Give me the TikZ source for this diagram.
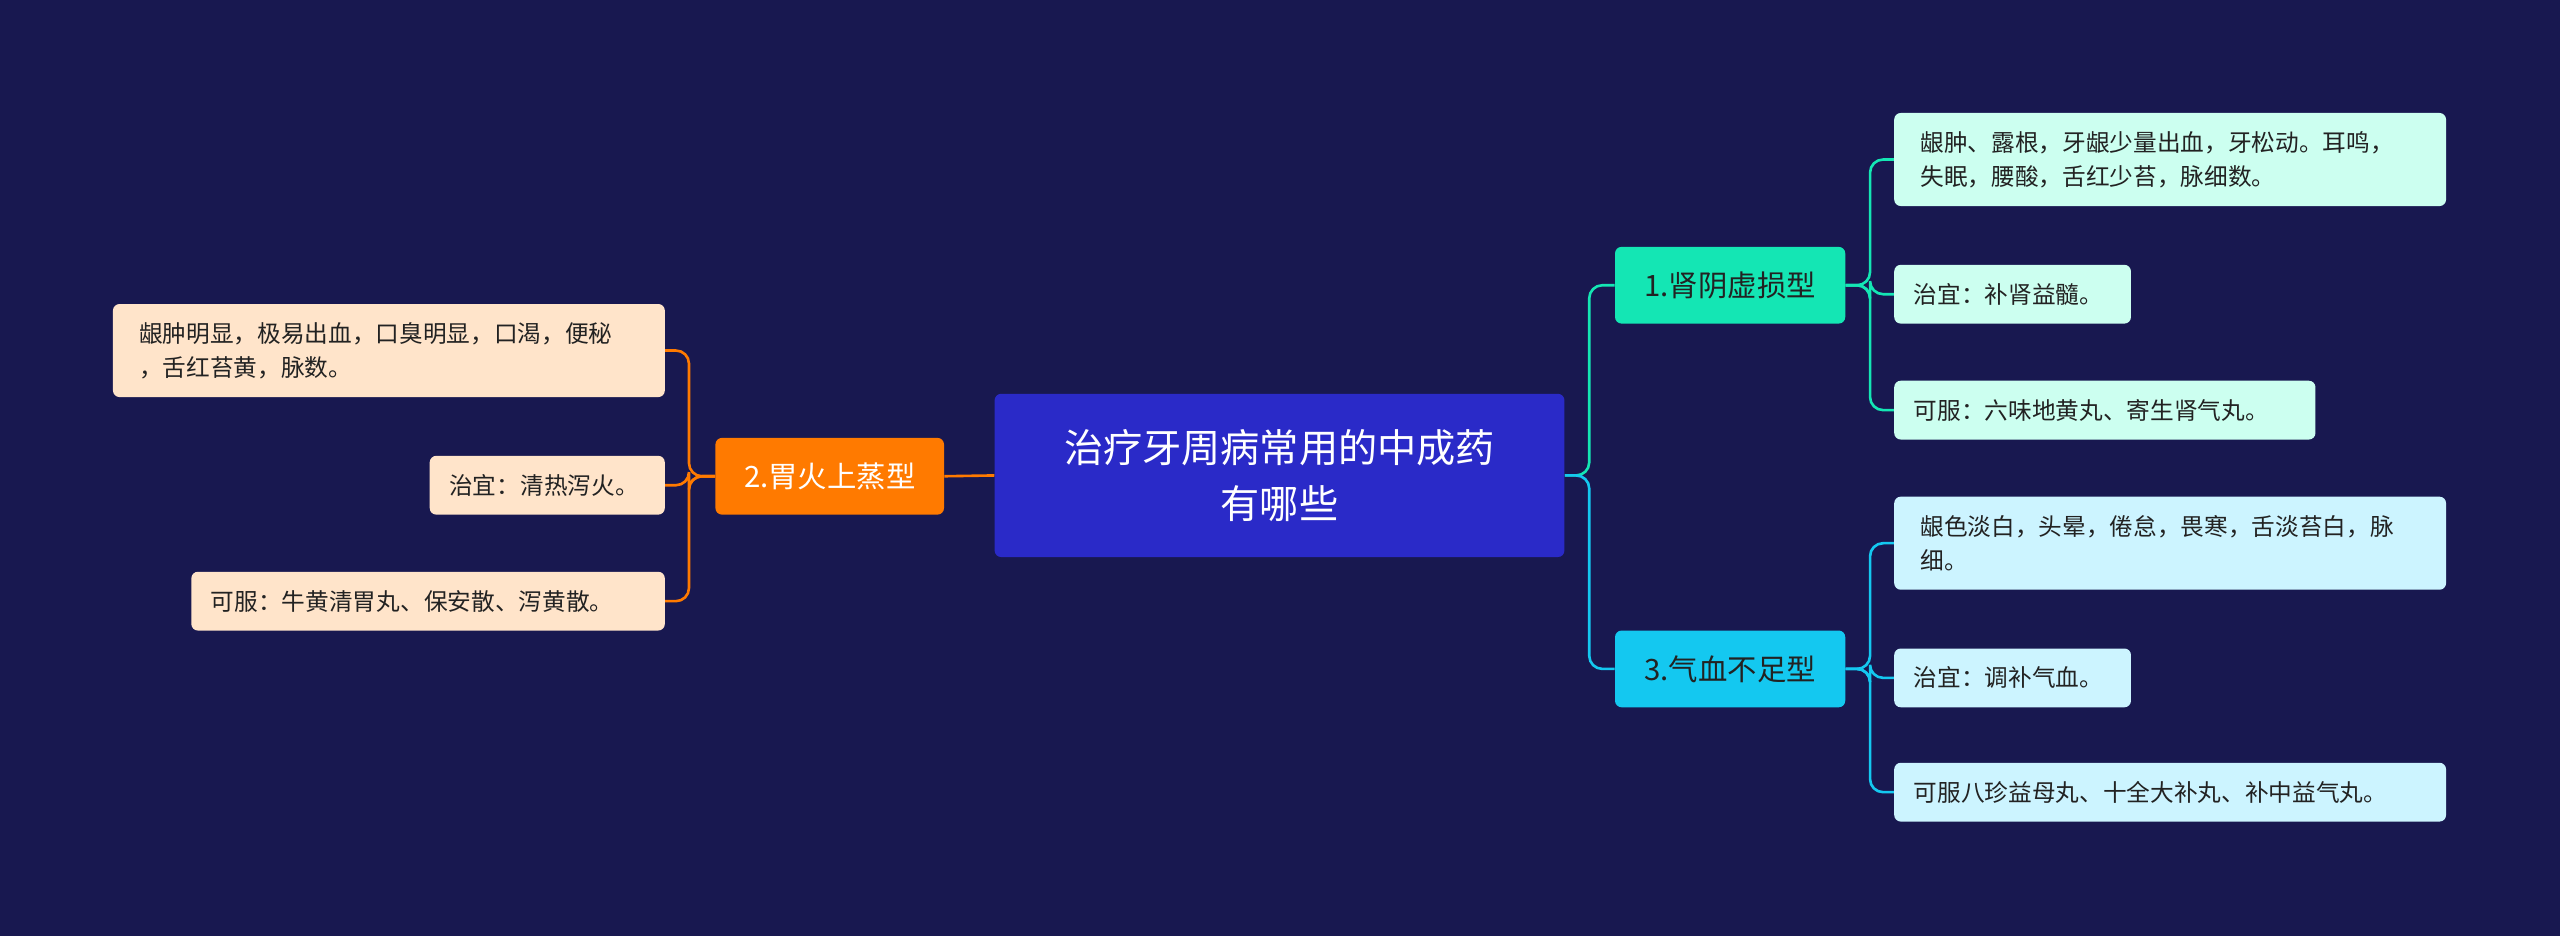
\documentclass[tikz,border=0pt]{standalone}
\usepackage{fontspec}
\setmainfont{Noto Sans CJK SC}
\begin{document}
\begin{tikzpicture}[x=1pt,y=-1pt,
  box/.style={rounded corners=4pt,anchor=north west,inner sep=0pt,align=left},
  leafL/.style={box,fill=leafo,text=textd,font=\fontsize{14.5}{21}\selectfont},
  leafT/.style={box,fill=leaft,text=textd,font=\fontsize{14.5}{21}\selectfont},
  leafC/.style={box,fill=leafc,text=textd,font=\fontsize{14.5}{21}\selectfont},
  br/.style={box,align=center,font=\fontsize{18}{22}\selectfont},
  ln/.style={line width=1.6pt,rounded corners=8pt}]
\definecolor{bg}{HTML}{181850}
\definecolor{cen}{HTML}{2A2AC8}
\definecolor{oran}{HTML}{FF7A00}
\definecolor{teal}{HTML}{14E6B4}
\definecolor{cyan}{HTML}{14C8F0}
\definecolor{leafo}{HTML}{FFE4CA}
\definecolor{leaft}{HTML}{CCFFF0}
\definecolor{leafc}{HTML}{CCF4FF}
\definecolor{textd}{HTML}{222222}
\fill[bg] (0,0) rectangle (1568,573);
\useasboundingbox (0,0) rectangle (1568,573);
\node[box,fill=cen,text=white,align=center,minimum width=349pt,minimum height=100pt,font=\fontsize{24}{34}\selectfont] (c) at (609,241) {治疗牙周病常用的中成药\\有哪些};
\node[br,fill=oran,text=white,minimum width=140pt,minimum height=47pt] (b2) at (438,268) {2.胃火上蒸型};
\node[br,fill=teal,text=textd,minimum width=141pt,minimum height=47pt] (b1) at (989,151) {1.肾阴虚损型};
\node[br,fill=cyan,text=textd,minimum width=141pt,minimum height=47pt] (b3) at (989,386) {3.气血不足型};
\node[leafL,minimum width=338pt,minimum height=57pt,text width=322pt] (l1) at (69,186) {\hspace*{8pt}龈肿明显，极易出血，口臭明显，口渴，便秘\\\hspace*{8pt}，舌红苔黄，脉数。};
\node[leafL,minimum width=144pt,minimum height=36pt,text width=136pt] (l2) at (263,279) {\hspace*{8pt}治宜：清热泻火。};
\node[leafL,minimum width=290pt,minimum height=36pt,text width=282pt] (l3) at (117,350) {\hspace*{8pt}可服：牛黄清胃丸、保安散、泻黄散。};
\node[leafT,minimum width=338pt,minimum height=57pt,text width=322pt] (r1) at (1160,69) {\hspace*{8pt}龈肿、露根，牙龈少量出血，牙松动。耳鸣，\\\hspace*{8pt}失眠，腰酸，舌红少苔，脉细数。};
\node[leafT,minimum width=145pt,minimum height=36pt,text width=137pt] (r2) at (1160,162) {\hspace*{8pt}治宜：补肾益髓。};
\node[leafT,minimum width=258pt,minimum height=36pt,text width=250pt] (r3) at (1160,233) {\hspace*{8pt}可服：六味地黄丸、寄生肾气丸。};
\node[leafC,minimum width=338pt,minimum height=57pt,text width=322pt] (r4) at (1160,304) {\hspace*{8pt}龈色淡白，头晕，倦怠，畏寒，舌淡苔白，脉\\\hspace*{8pt}细。};
\node[leafC,minimum width=145pt,minimum height=36pt,text width=137pt] (r5) at (1160,397) {\hspace*{8pt}治宜：调补气血。};
\node[leafC,minimum width=338pt,minimum height=36pt,text width=330pt] (r6) at (1160,467) {\hspace*{8pt}可服八珍益母丸、十全大补丸、补中益气丸。};
\draw[ln,oran] (c.west) -- (b2.east);
\draw[ln,teal] (c.east) -- ([xshift=15pt]c.east) |- (b1.west);
\draw[ln,cyan] (c.east) -- ([xshift=15pt]c.east) |- (b3.west);
\foreach \l in {l1,l2,l3} \draw[ln,oran] (b2.west) -- ([xshift=-16pt]b2.west) |- (\l.east);
\foreach \r in {r1,r2,r3} \draw[ln,teal] (b1.east) -- ([xshift=15pt]b1.east) |- (\r.west);
\foreach \r in {r4,r5,r6} \draw[ln,cyan] (b3.east) -- ([xshift=15pt]b3.east) |- (\r.west);
\end{tikzpicture}
\end{document}
